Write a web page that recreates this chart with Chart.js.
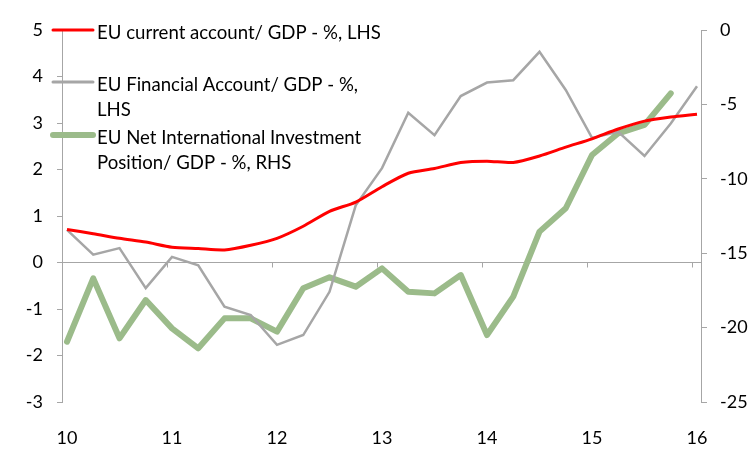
<!DOCTYPE html>
<html>
<head>
<meta charset="utf-8">
<script src="https://cdn.jsdelivr.net/npm/chart.js@4"></script>
<style>
  html, body { margin: 0; padding: 0; background: #fff; }
  #wrap { width: 752px; height: 452px; }
</style>
</head>
<body>
<div id="wrap"><canvas id="myChart" width="752" height="452"></canvas></div>
<script>
// quarters 2010Q1 .. 2016Q1, x = quarter index
const trimestres = ['10Q1','10Q2','10Q3','10Q4','11Q1','11Q2','11Q3','11Q4','12Q1','12Q2','12Q3','12Q4',
  '13Q1','13Q2','13Q3','13Q4','14Q1','14Q2','14Q3','14Q4','15Q1','15Q2','15Q3','15Q4','16Q1'];
const etiquetasAnio = ['10','11','12','13','14','15','16'];

const cuentaCorriente = [0.71, 0.62, 0.52, 0.44, 0.33, 0.30, 0.27, 0.37, 0.52, 0.78, 1.10, 1.30,
  1.63, 1.92, 2.02, 2.15, 2.18, 2.15, 2.29, 2.48, 2.66, 2.87, 3.04, 3.13, 3.19];
const cuentaFinanciera = [0.70, 0.17, 0.31, -0.55, 0.12, -0.06, -0.95, -1.13, -1.77, -1.56, -0.63, 1.23,
  2.03, 3.22, 2.74, 3.58, 3.87, 3.92, 4.53, 3.71, 2.68, 2.81, 2.29, 2.99, 3.79];
const posicionNeta = [-20.95, -16.69, -20.72, -18.15, -20.05, -21.39, -19.38, -19.38, -20.27, -17.36, -16.62, -17.25,
  -16.02, -17.59, -17.70, -16.47, -20.50, -17.92, -13.55, -11.98, -8.40, -6.94, -6.38, -4.26];

const nombres = [
  ['EU current account/ GDP - %, LHS'],
  ['EU Financial Account/ GDP - %,', 'LHS'],
  ['EU Net International Investment', 'Position/ GDP - %, RHS']
];

const gris = '#a6a6a6';
const fuente = { family: 'Lato', size: 18 };

function puntos(valores) {
  return valores.map((v, i) => ({ x: i, y: v }));
}

// legend drawn inside the plot, text wraps like the original
const leyenda = {
  id: 'leyenda',
  afterDraw(chart) {
    const c = chart.ctx;
    const items = [
      { color: 'rgb(255,0,0)', ancho: 3, y: 30, texto: 33 },
      { color: gris, ancho: 3, y: 82, texto: 85 },
      { color: '#9bbb8a', ancho: 6, y: 135, texto: 138 }
    ];
    c.save();
    c.font = '18.6px Lato';
    c.textBaseline = 'middle';
    c.fillStyle = '#000';
    items.forEach((it, k) => {
      c.strokeStyle = it.color;
      c.lineWidth = it.ancho;
      c.lineCap = 'round';
      c.beginPath();
      c.moveTo(53, it.y);
      c.lineTo(93, it.y);
      c.stroke();
      nombres[k].forEach((linea, j) => {
        c.fillText(linea, 97, it.texto + j * 25);
      });
    });
    c.restore();
  }
};

// small tick marks hanging from the zero line
const marcasCero = {
  id: 'marcasCero',
  afterDatasetsDraw(chart) {
    const c = chart.ctx;
    const x = chart.scales.x;
    const y0 = chart.scales.y.getPixelForValue(0);
    c.save();
    c.strokeStyle = gris;
    c.lineWidth = 1;
    for (let i = 4; i <= 24; i += 4) {
      const px = Math.round(x.getPixelForValue(i)) - 4.5;
      c.beginPath();
      c.moveTo(px, y0);
      c.lineTo(px, y0 + 5);
      c.stroke();
    }
    c.restore();
  }
};

new Chart(document.getElementById('myChart'), {
  type: 'line',
  data: {
    datasets: [
      { label: nombres[0].join(' '), data: puntos(cuentaCorriente), yAxisID: 'y',
        borderColor: 'rgb(255,0,0)', borderWidth: 3, pointRadius: 0, tension: 0.25, order: 1 },
      { label: nombres[1].join(' '), data: puntos(cuentaFinanciera), yAxisID: 'y',
        borderColor: gris, borderWidth: 2.5, pointRadius: 0, tension: 0, order: 2 },
      { label: nombres[2].join(' '), data: puntos(posicionNeta), yAxisID: 'y2',
        borderColor: '#9bbb8a', borderWidth: 6, pointRadius: 0, tension: 0, order: 3,
        borderCapStyle: 'round', borderJoinStyle: 'round' }
    ]
  },
  options: {
    responsive: false,
    animation: false,
    layout: { padding: { top: 30, left: 0, right: 0, bottom: 0 } },
    plugins: { legend: { display: false }, tooltip: { enabled: false } },
    scales: {
      x: {
        type: 'linear',
        min: -0.19,
        max: 24.152,
        afterBuildTicks(scale) {
          scale.ticks = [0, 4, 8, 12, 16, 20, 24].map(v => ({ value: v }));
        },
        afterFit(scale) { scale.height = 50; },
        grid: { display: false },
        border: { display: false },
        ticks: {
          color: '#000', font: fuente, padding: 17, maxRotation: 0,
          callback: (v) => etiquetasAnio[v / 4]
        }
      },
      y: {
        position: 'left',
        min: -3, max: 5,
        afterFit(scale) { scale.width = 62; },
        ticks: { stepSize: 1, color: '#000', font: fuente, padding: 14 },
        border: { color: gris, width: 1 },
        grid: {
          drawOnChartArea: true,
          color: (ctx) => (ctx.tick && ctx.tick.value === 0) ? gris : 'rgba(0,0,0,0)',
          tickColor: gris,
          tickLength: 5,
          lineWidth: 1
        }
      },
      y2: {
        position: 'right',
        min: -25, max: 0,
        afterFit(scale) { scale.width = 51; },
        ticks: { stepSize: 5, color: '#000', font: fuente, padding: 13 },
        border: { color: gris, width: 1 },
        grid: { drawOnChartArea: false, color: gris, tickLength: 6 }
      }
    }
  },
  plugins: [marcasCero, leyenda]
});
</script>
</body>
</html>
